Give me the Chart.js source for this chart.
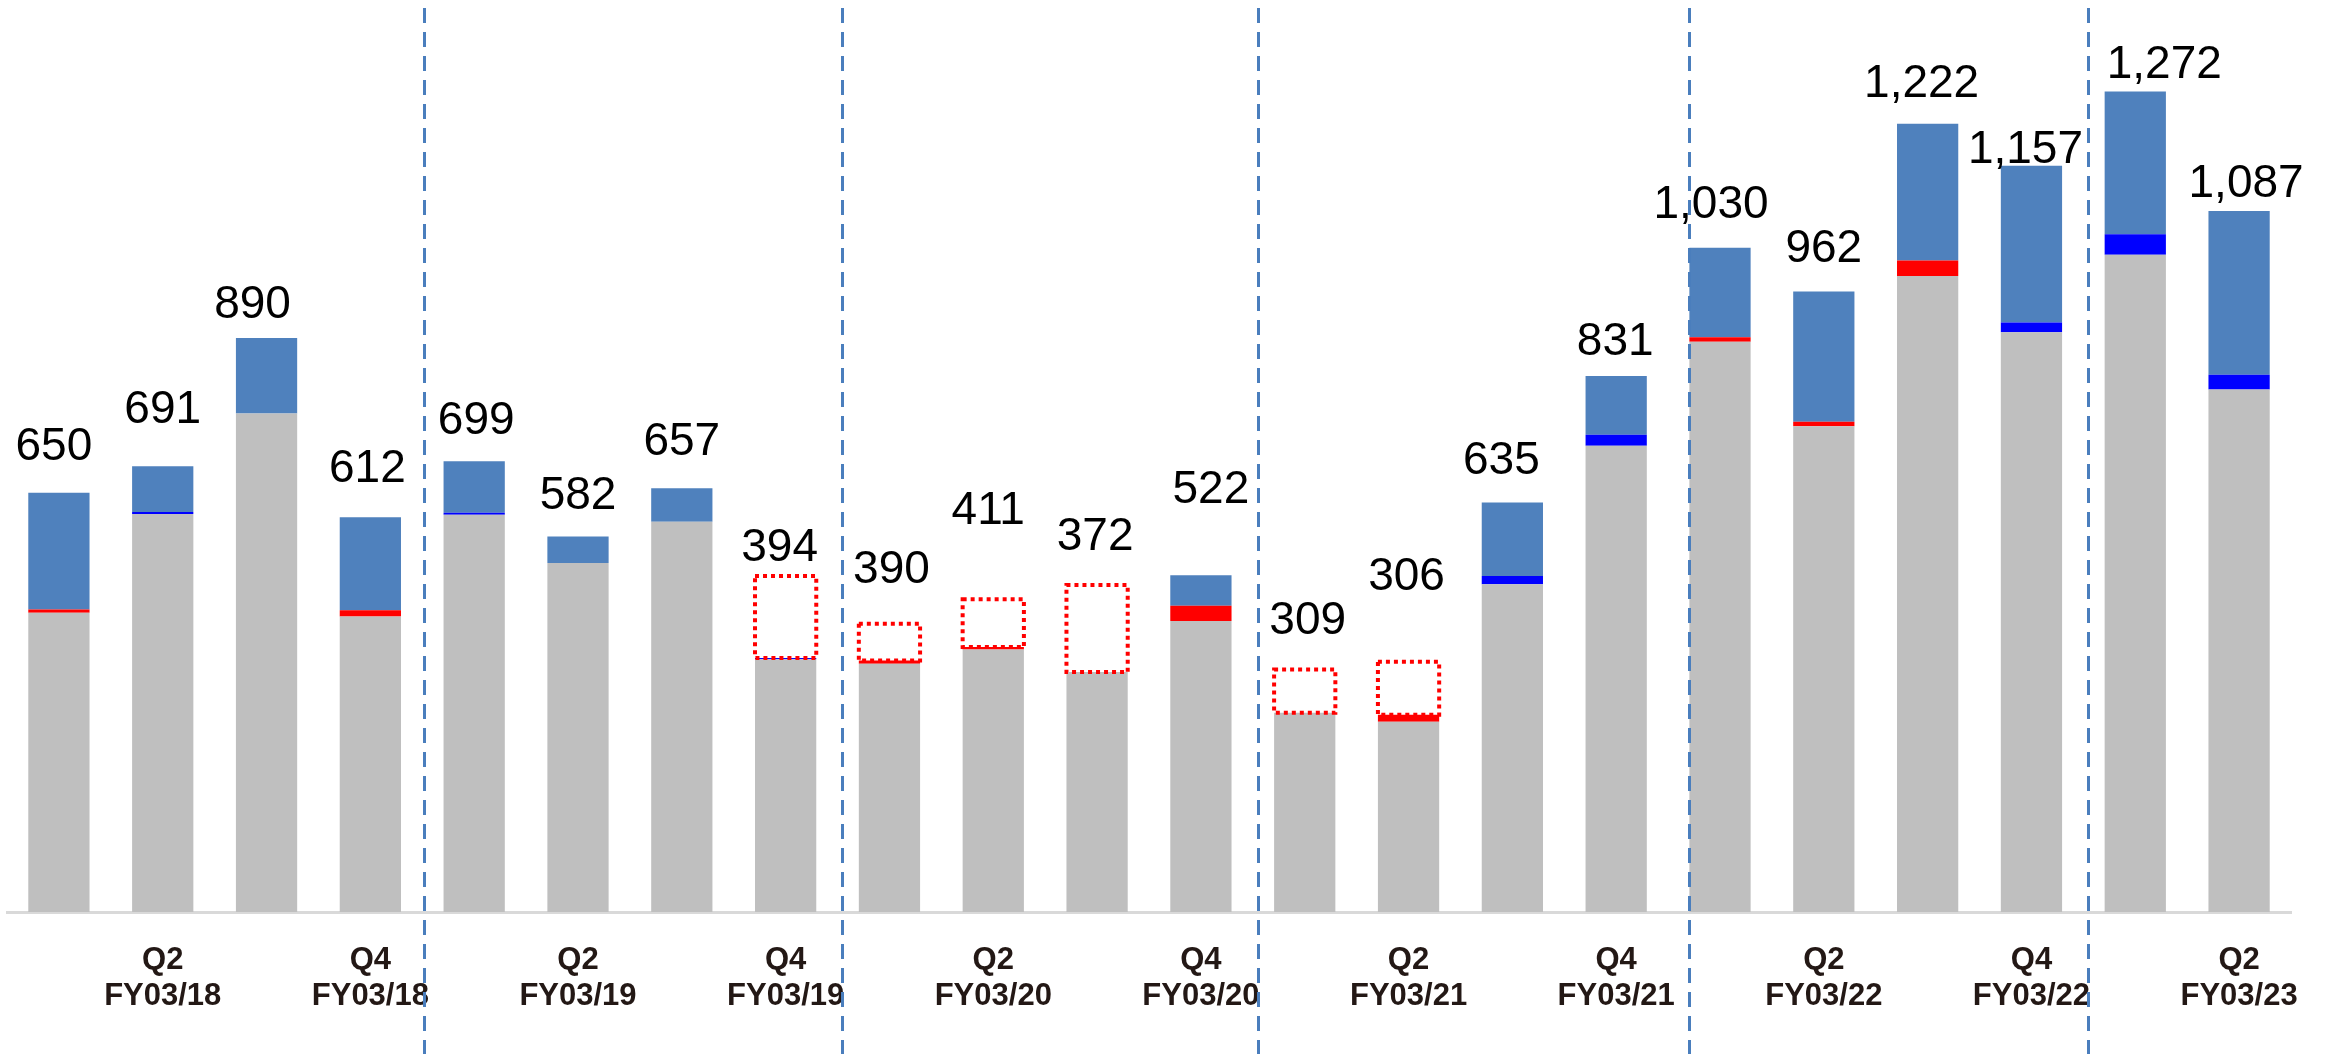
<!DOCTYPE html>
<html>
<head>
<meta charset="utf-8">
<script src="https://cdn.jsdelivr.net/npm/chart.js@4.4.0/dist/chart.umd.min.js"></script>
<style>
  html, body { margin: 0; padding: 0; background: #fff; }
</style>
</head>
<body>
<canvas id="quarterChart" width="2330" height="1054"></canvas>
<script>
// quarters FY03/18 .. Q2 FY03/23
const categories = [
  'Q1 FY03/18', 'Q2 FY03/18', 'Q3 FY03/18', 'Q4 FY03/18',
  'Q1 FY03/19', 'Q2 FY03/19', 'Q3 FY03/19', 'Q4 FY03/19',
  'Q1 FY03/20', 'Q2 FY03/20', 'Q3 FY03/20', 'Q4 FY03/20',
  'Q1 FY03/21', 'Q2 FY03/21', 'Q3 FY03/21', 'Q4 FY03/21',
  'Q1 FY03/22', 'Q2 FY03/22', 'Q3 FY03/22', 'Q4 FY03/22',
  'Q1 FY03/23', 'Q2 FY03/23'
];

// only Q2 / Q4 get an axis label
const tickLabels = [
  '', ['Q2', 'FY03/18'], '', ['Q4', 'FY03/18'],
  '', ['Q2', 'FY03/19'], '', ['Q4', 'FY03/19'],
  '', ['Q2', 'FY03/20'], '', ['Q4', 'FY03/20'],
  '', ['Q2', 'FY03/21'], '', ['Q4', 'FY03/21'],
  '', ['Q2', 'FY03/22'], '', ['Q4', 'FY03/22'],
  '', ['Q2', 'FY03/23']
];

const totals   = [650, 691, 890, 612, 699, 582, 657, 394, 390, 411, 372, 522, 309, 306, 635, 831, 1030, 962, 1222, 1157, 1272, 1087];
const base     = [464, 617, 773, 458, 616, 541, 605, 392, 385, 407, 372, 451, 309, 295, 508, 723, 884, 753, 986, 899, 1019, 810];
const redPart  = [5, 0, 0, 10, 0, 0, 0, 0, 5, 4, 0, 24, 0, 11, 0, 0, 7, 7, 24, 0, 0, 0];
const bluePart = [0, 3, 0, 0, 3, 0, 0, 2, 0, 0, 0, 0, 0, 0, 13, 17, 0, 0, 0, 15, 32, 23];
const topPart  = [181, 71, 117, 144, 80, 41, 52, 0, 0, 0, 0, 47, 0, 0, 114, 91, 139, 202, 212, 243, 221, 254];
const lossBox  = [null, null, null, null, null, null, null, 127, 57, 74, 135, null, 67, 82, null, null, null, null, null, null, null, null];

// fiscal year dividers, in category units
const dividerAt = [3.52, 7.54, 11.55, 15.70, 19.54];

// label placement tweaks (px): gap above bar top, horizontal shift
const labelGap = [33, 43, 20, 35, 27, 28, 33, 15, 41, 75, 35, 72, 35, 72, 28, 21, 30, 30, 27, 3, 14, 14];
const labelDx  = [-5, 0, -14, -3, 2, 0, 0, -6, 2, -5, -2, 10, 3, -2, -11, -1, -9, 0, -6, -6, 29, 7];

const extras = {
  id: 'extras',
  afterDatasetsDraw(chart) {
    const ctx = chart.ctx;
    const xs = chart.scales.x;
    const ys = chart.scales.y;

    // dotted outline boxes
    const meta = chart.getDatasetMeta(4);
    ctx.save();
    ctx.strokeStyle = '#FF0000';
    ctx.lineWidth = 4;
    ctx.setLineDash([4, 4]);
    meta.data.forEach((bar, i) => {
      if (lossBox[i] == null) return;
      const p = bar.getProps(['x', 'y', 'base', 'width'], true);
      ctx.strokeRect(p.x - p.width / 2, p.y, p.width, p.base - p.y);
    });
    ctx.restore();

    // dashed year separators
    ctx.save();
    ctx.strokeStyle = '#4A7EBD';
    ctx.lineWidth = 3;
    ctx.setLineDash([15, 9]);
    dividerAt.forEach(v => {
      const px = Math.round(xs.getPixelForValue(v)) + 0.5;
      ctx.beginPath();
      ctx.moveTo(px, 8);
      ctx.lineTo(px, chart.height);
      ctx.stroke();
    });
    ctx.restore();

    // value labels
    ctx.save();
    ctx.fillStyle = '#000';
    ctx.font = '46px "Liberation Sans", Arial, sans-serif';
    ctx.textAlign = 'center';
    ctx.textBaseline = 'alphabetic';
    totals.forEach((t, i) => {
      const top = ys.getPixelForValue(t + (lossBox[i] || 0));
      const px = xs.getPixelForValue(i) + labelDx[i];
      ctx.fillText(t.toLocaleString('en-US'), px, top - labelGap[i]);
    });
    ctx.restore();
  }
};

const barOpts = { categoryPercentage: 1, barPercentage: 0.59, borderWidth: 0 };

new Chart(document.getElementById('quarterChart'), {
  type: 'bar',
  data: {
    labels: categories,
    datasets: [
      { label: 'base', data: base, backgroundColor: '#BFBFBF', ...barOpts },
      { label: 'red', data: redPart, backgroundColor: '#FF0000', ...barOpts },
      { label: 'blue', data: bluePart, backgroundColor: '#0000FF', ...barOpts },
      { label: 'top', data: topPart, backgroundColor: '#4F81BD', ...barOpts },
      { label: 'loss', data: lossBox, backgroundColor: 'rgba(0,0,0,0)', ...barOpts }
    ]
  },
  options: {
    responsive: false,
    animation: false,
    layout: { padding: { left: 7, right: 39, top: 0, bottom: 0 } },
    plugins: {
      legend: { display: false },
      tooltip: { enabled: false }
    },
    scales: {
      x: {
        stacked: true,
        grid: { display: false, drawTicks: false },
        border: { display: true, color: '#D9D9D9', width: 3 },
        afterFit: (scale) => { scale.height = 142; },
        ticks: {
          autoSkip: false,
          maxRotation: 0,
          padding: 30,
          color: '#231815',
          font: { family: '"Liberation Sans", Arial, sans-serif', size: 31, weight: 'bold', lineHeight: 1.17 },
          callback: (v, i) => tickLabels[i]
        }
      },
      y: {
        stacked: true,
        display: false,
        min: 0,
        max: 1414
      }
    }
  },
  plugins: [extras]
});
</script>
</body>
</html>
